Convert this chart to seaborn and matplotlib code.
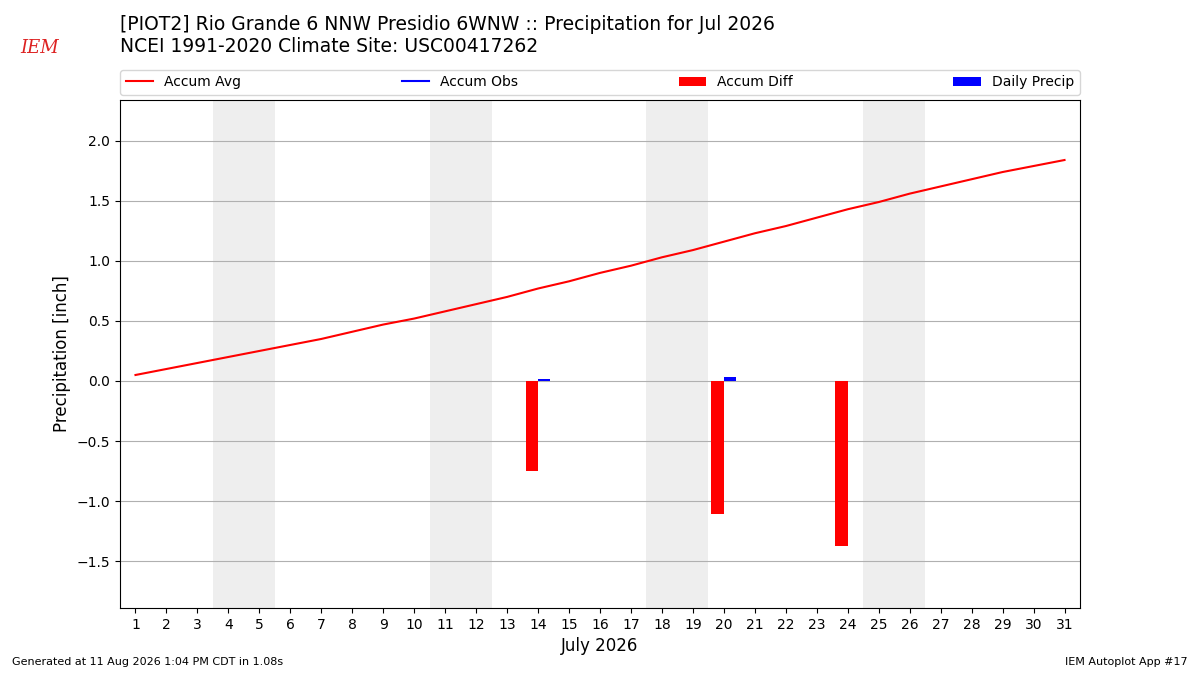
import numpy as np
import pandas as pd
import seaborn as sns
import matplotlib
matplotlib.use("Agg")
import matplotlib.pyplot as plt

days = list(range(1, 32))
accum_avg = [0.05, 0.10, 0.15, 0.20, 0.25, 0.30, 0.35, 0.41, 0.47, 0.52,
             0.58, 0.64, 0.70, 0.77, 0.83, 0.90, 0.96, 1.03, 1.09, 1.16,
             1.23, 1.29, 1.36, 1.43, 1.49, 1.56, 1.62, 1.68, 1.74, 1.79, 1.84]
# observations only reported on a few days
obs_days = [14, 20, 24]
accum_diff = [-0.75, -1.11, -1.37]
precip_days = [14, 20, 24]
daily_precip = [0.02, 0.03, 0.0]
weekends = [4, 11, 18, 25]

df = pd.DataFrame({"day": days, "avg": accum_avg})
df["obs"] = np.nan
for d, v in zip(obs_days, accum_diff):
    df.loc[df.day == d, "obs"] = df.loc[df.day == d, "avg"] + v

fig = plt.figure(figsize=(12, 6.75), dpi=100)
ax = fig.add_axes([0.1, 0.0993, 0.8, 0.7526])

for w in weekends:
    ax.axvspan(w - 0.5, w + 1.5, color="#eeeeee", zorder=0, lw=0)

sns.lineplot(data=df, x="day", y="avg", color="r", lw=1.5, ax=ax, label="Accum Avg")
# plain plot keeps the gaps (seaborn would join the isolated obs points)
ax.plot(df["day"], df["obs"], color="b", lw=1.5, label="Accum Obs")
ax.bar(np.array(obs_days) - 0.4, accum_diff, width=0.4, align="edge",
       color="r", label="Accum Diff", zorder=3)
ax.bar(np.array(precip_days), daily_precip, width=0.4, align="edge",
       color="b", label="Daily Precip", zorder=3)

ax.set_xlim(0.5, 31.5)
ax.set_ylim(-1.89, 2.34)
ax.set_xticks(days)
ax.set_yticks([-1.5, -1.0, -0.5, 0.0, 0.5, 1.0, 1.5, 2.0])
ax.yaxis.grid(True, color="#b0b0b0")
ax.set_axisbelow(True)
ax.set_xlabel("July 2026", fontsize=12)
ax.set_ylabel("Precipitation [inch]", fontsize=12)

ax.legend(loc="lower left", bbox_to_anchor=(0, 1.01, 1, 0.05), ncol=4,
          mode="expand", borderaxespad=0, fontsize=10)

fig.text(0.1, 0.947, "[PIOT2] Rio Grande 6 NNW Presidio 6WNW :: Precipitation for Jul 2026\n"
         "NCEI 1991-2020 Climate Site: USC00417262", fontsize=13.5, va="center")
fig.text(0.017, 0.922, "IEM", color="#d22", fontsize=13, style="italic",
         family="serif")
fig.text(0.01, 0.015, "Generated at 11 Aug 2026 1:04 PM CDT in 1.08s", fontsize=8)
fig.text(0.99, 0.015, "IEM Autoplot App #17", fontsize=8, ha="right")

fig.savefig("out.png")
